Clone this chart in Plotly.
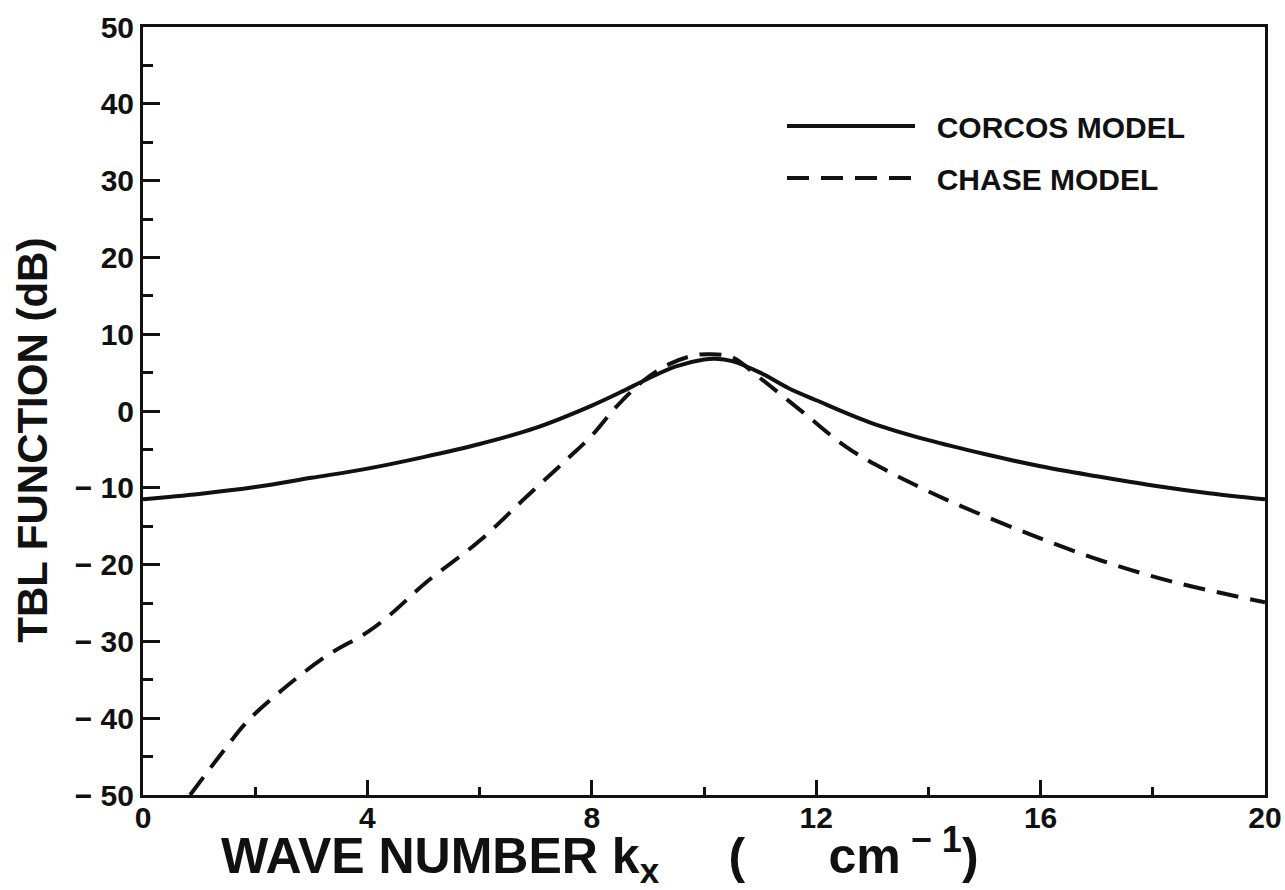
import plotly.graph_objects as go

# Corcos model (solid)
corcos_x = [0, 1, 2, 3, 4, 5, 6, 7, 8, 8.5, 9, 9.5, 10, 10.2, 10.5, 11, 11.5, 12, 13, 14, 15, 16, 17, 18, 19, 20]
corcos_y = [-11.5, -10.8, -9.9, -8.7, -7.5, -6.0, -4.3, -2.2, 0.7, 2.4, 4.2, 5.8, 6.7, 6.8, 6.5, 5.0, 3.0, 1.4, -1.6, -3.8, -5.6, -7.2, -8.5, -9.7, -10.7, -11.5]

# Chase model (dashed)
chase_x = [0.84, 1.41, 1.86, 2.5, 3.27, 4.0, 4.41, 5.05, 6.0, 6.83, 7.6, 8.0, 8.43, 8.93, 9.38, 9.8, 10.1, 10.5, 10.98, 11.76, 12.54, 13.19, 13.84, 14.49, 15.79, 17.09, 18.39, 20]
chase_y = [-50, -44.5, -40.4, -36.2, -31.9, -28.8, -26.5, -22.3, -16.9, -11.2, -6.0, -3.2, 0.5, 4.0, 6.1, 7.2, 7.4, 7.0, 4.4, -0.15, -4.7, -7.5, -9.9, -12.1, -16.0, -19.5, -22.3, -24.9]

x_ticks = [0, 4, 8, 12, 16, 20]
y_ticks = [-50, -40, -30, -20, -10, 0, 10, 20, 30, 40, 50]
y_ticktext = ["\u2212 50", "\u2212 40", "\u2212 30", "\u2212 20", "\u2212 10", "0", "10", "20", "30", "40", "50"]

FONT = "Liberation Sans"
INK = "#111111"
NB = "\u00a0"
ZW = "\u200b"

x_title = ("WAVE NUMBER k<sub>x</sub>" + NB * 5 + "(" + NB * 6 + "cm"
           + "<sup><span style='font-size:36px'>" + NB + "\u2212" + NB + "1</span></sup>"
           + ")" + NB * 15 + ZW)
y_title = "TBL FUNCTION (dB)" + NB * 5 + ZW

fig = go.Figure()
fig.add_trace(go.Scatter(
    x=corcos_x, y=corcos_y, mode="lines", name=NB * 2 + "CORCOS MODEL",
    line=dict(color=INK, width=4, shape="spline"),
    legendgroup="a",
))
fig.add_trace(go.Scatter(
    x=chase_x, y=chase_y, mode="lines", name=NB * 2 + "CHASE MODEL",
    line=dict(color=INK, width=4, dash="22px,12px", shape="spline"),
    legendgroup="b",
))

axis_common = dict(
    showline=True, linecolor=INK, linewidth=3, mirror=True,
    ticks="inside", tickcolor=INK, tickwidth=2.5,
    showgrid=False, zeroline=False, automargin=False,
    ticklabeloverflow="allow",
    tickfont=dict(family=FONT, size=30, color=INK, weight="bold"),
)

fig.update_xaxes(
    range=[0, 20], tickvals=x_ticks, ticklen=15, ticklabelstandoff=-6,
    minor=dict(dtick=2, ticks="inside", ticklen=8, tickwidth=2.5, tickcolor=INK, showgrid=False),
    title=dict(text=x_title, font=dict(family=FONT, size=50, color=INK, weight="bold"), standoff=18),
    **axis_common,
)
fig.update_yaxes(
    range=[-50, 50], tickvals=y_ticks, ticktext=y_ticktext, ticklen=17,
    minor=dict(dtick=5, ticks="inside", ticklen=10, tickwidth=2.5, tickcolor=INK, showgrid=False),
    title=dict(text=y_title, font=dict(family=FONT, size=42, color=INK, weight="bold"), standoff=15),
    **axis_common,
)

fig.update_layout(
    width=1285, height=890,
    margin=dict(l=143, r=20, t=27, b=95),
    paper_bgcolor="white", plot_bgcolor="white",
    showlegend=True,
    legend=dict(
        x=0.5695, y=0.905, xanchor="left", yanchor="top",
        bgcolor="rgba(0,0,0,0)", borderwidth=0,
        font=dict(family=FONT, size=30, color=INK, weight="bold"),
        itemwidth=128, tracegroupgap=10,
    ),
)

fig.write_html(
    "out.html",
    config={"displayModeBar": False},
    post_script="document.body.style.margin='0';document.body.style.overflow='hidden';",
)
